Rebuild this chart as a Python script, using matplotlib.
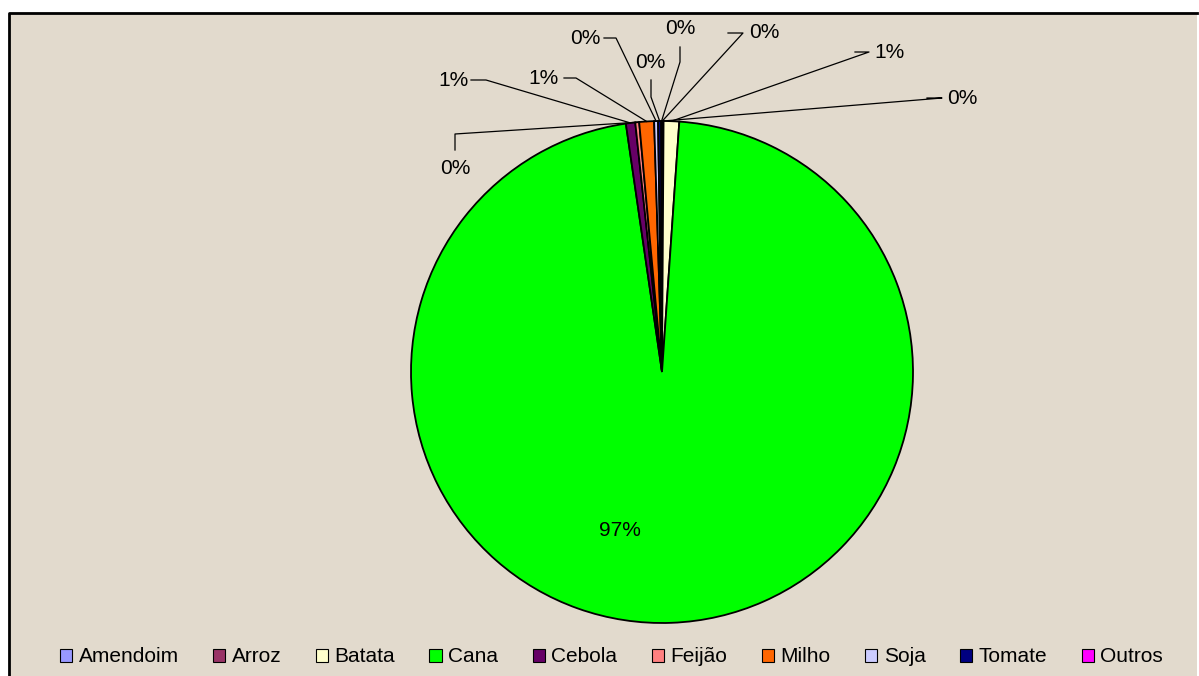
import numpy as np
import matplotlib
matplotlib.use('Agg')
import matplotlib.pyplot as plt
from matplotlib.patches import Patch, Rectangle

plt.rcParams['font.family'] = ['Liberation Sans', 'DejaVu Sans']

# crop shares (% of area), clockwise from 12 o'clock
culturas = ['Amendoim', 'Arroz', 'Batata', 'Cana', 'Cebola',
            'Feijão', 'Milho', 'Soja', 'Tomate', 'Outros']
area = [0.04, 0.06, 1.0, 96.6, 0.6, 0.25, 0.95, 0.25, 0.2, 0.05]
cores = ['#9999FF', '#993366', '#FFFFCC', '#00FF00', '#660066',
         '#FF8080', '#FF6600', '#CCCCFF', '#000080', '#FF00FF']

# label placement in pixel space: text centre, elbow start, elbow end
rotulos = {
    'Amendoim': ((764, 32), (728, 33), (743, 33)),
    'Arroz':    ((962, 98), (927, 98), (942, 98)),
    'Batata':   ((889, 52), (855, 52), (869, 52)),
    'Cana':     ((620, 531), None, None),
    'Cebola':   ((453, 80), (471, 80), (486, 80)),
    'Feijão':   ((455, 168), (455, 150), (455, 134)),
    'Milho':    ((544, 78), (564, 78), (576, 78)),
    'Soja':     ((585, 38), (604, 38), (616, 38)),
    'Tomate':   ((650, 62), (651, 80), (651, 97)),
    'Outros':   ((680, 28), (680, 47), (680, 62)),
}

W, H = 1199, 676
centro = (662, H - 372)
raio = 251

fig = plt.figure(figsize=(W / 100, H / 100), dpi=100, facecolor='white')
ax = fig.add_axes([0, 0, 1, 1])

# chart area background and border
ax.add_patch(Rectangle((9, -5), W - 11, H - 13 + 5, facecolor='#E2DACD',
                       edgecolor='none', zorder=0))
ax.plot([9, 9, W - 2], [-5, H - 13, H - 13], color='black', lw=2, zorder=1)

wedges, _ = ax.pie(area, colors=cores, startangle=90, counterclock=False,
                   center=centro, radius=raio, frame=True,
                   wedgeprops=dict(edgecolor='black', linewidth=1.3))
ax.set_xlim(0, W)
ax.set_ylim(0, H)
ax.set_aspect('equal')
ax.axis('off')

total = sum(area)
for nome, valor, w in zip(culturas, area, wedges):
    (tx, ty), a, b = rotulos[nome]
    ax.text(tx, H - ty, f'{valor / total * 100:.0f}%', ha='center', va='center',
            fontsize=15, color='black', zorder=5)
    if a is None:
        continue
    meio = np.deg2rad((w.theta1 + w.theta2) / 2)
    ex = centro[0] + raio * np.cos(meio)
    ey = centro[1] + raio * np.sin(meio)
    ax.plot([a[0], b[0], ex], [H - a[1], H - b[1], ey], color='black',
            lw=0.9, zorder=4)

handles = [Patch(facecolor=c, edgecolor='black', linewidth=0.8) for c in cores]
fig.legend(handles, culturas, loc='center', bbox_to_anchor=(0.51, 1 - 657 / H),
           ncol=10, frameon=False, fontsize=15, handlelength=0.6,
           handleheight=0.6, handletextpad=0.3, columnspacing=1.65,
           borderaxespad=0)

fig.savefig('out.png', dpi=100, facecolor='white')
